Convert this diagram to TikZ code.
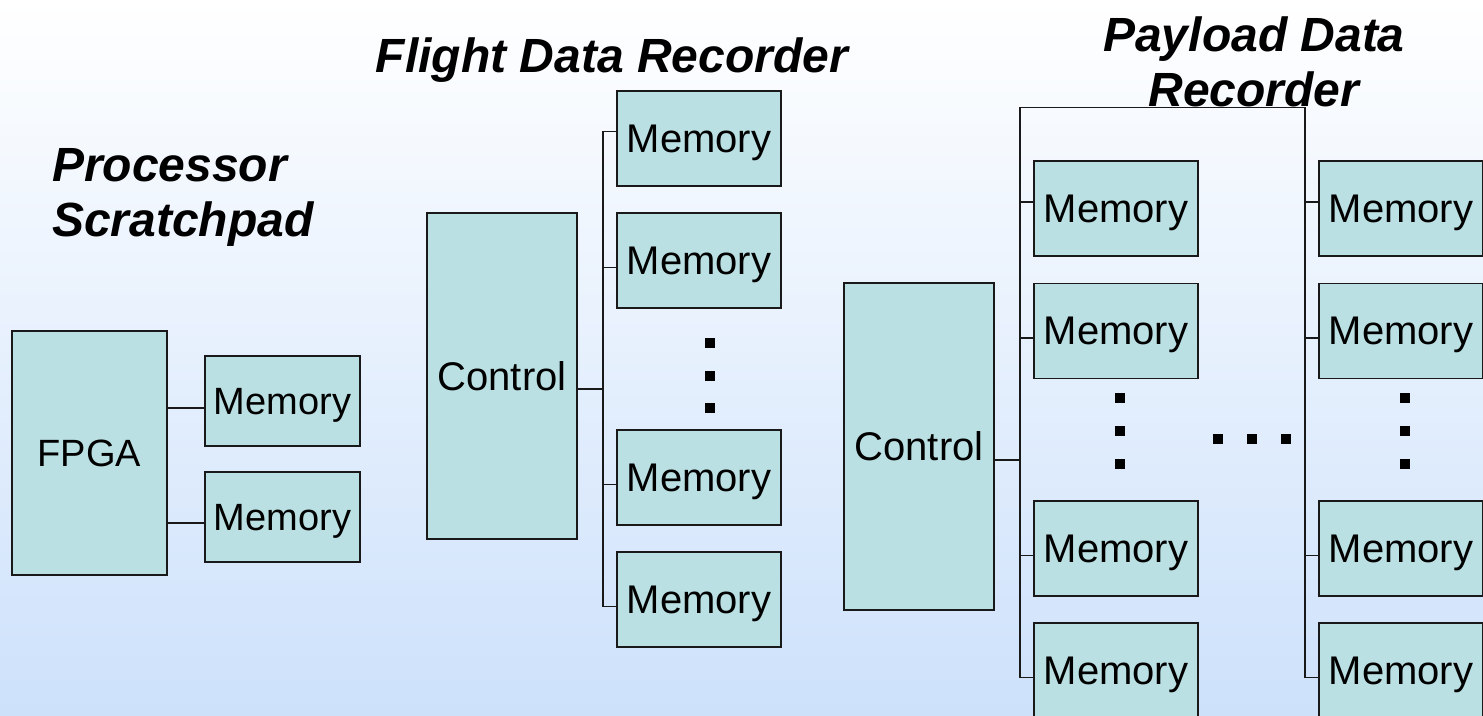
\documentclass[tikz,border=0pt]{standalone}
\usepackage{fontspec}
\setmainfont{Liberation Sans}
\usetikzlibrary{calc}
\definecolor{boxfill}{RGB}{186,224,227}
\definecolor{bgbot}{RGB}{205,225,251}
\definecolor{edge}{RGB}{25,25,25}
\tikzset{
  blk/.style={draw=edge, line width=1.6pt, fill=boxfill, inner sep=0pt, text depth=0pt, font=\fontsize{40}{48}\selectfont},
  mem/.style={blk, minimum width=164pt, minimum height=95pt},
  smem/.style={blk, minimum width=155pt, minimum height=90pt, font=\fontsize{38}{46}\selectfont},
  wire/.style={draw=edge, line width=1.6pt},
  ttl/.style={font=\fontsize{48}{55}\selectfont\bfseries\itshape, inner sep=0pt},
  dotsq/.style={fill=black, draw=none, minimum size=10pt, inner sep=0pt}
}
\begin{document}
\begin{tikzpicture}[x=1pt,y=-1pt]
\useasboundingbox (0,0) rectangle (1483,715);
\shade[top color=white, bottom color=bgbot] (0,0) rectangle (1483,715);
\clip (0,0) rectangle (1483,715);

% ---------- Processor Scratchpad ----------
\node[ttl, align=left, anchor=base west] (pst) at (52,236) {Processor\\Scratchpad};
\node[blk, minimum width=155pt, minimum height=244pt, font=\fontsize{38}{46}\selectfont] (fpga) at (89.5,453) {FPGA};
\node[smem] (sm1) at (282.5,401) {Memory};
\node[smem] (sm2) at (282.5,517) {Memory};
\coordinate (st1) at ($(sm1.west)+(0,7)$);
\coordinate (st2) at ($(sm2.west)+(0,6)$);
\draw[wire] (fpga.east |- st1) -- (st1);
\draw[wire] (fpga.east |- st2) -- (st2);

% ---------- Flight Data Recorder ----------
\node[ttl, anchor=base] (fdt) at (612,72) {Flight Data Recorder};
\node[blk, minimum width=150pt, minimum height=326pt] (fc) at (502,376) {Control};
\node[mem] (fm1) at (699,138.5) {Memory};
\node[mem] (fm2) at (699,260.5) {Memory};
\node[mem] (fm3) at (699,477.5) {Memory};
\node[mem] (fm4) at (699,599.5) {Memory};
\coordinate (ft1) at ($(fm1.west)+(0,-7)$);
\coordinate (ft2) at ($(fm2.west)+(0,7)$);
\coordinate (ft3) at ($(fm3.west)+(0,7)$);
\coordinate (ft4) at ($(fm4.west)+(0,7)$);
\coordinate (fbus) at ($(fm1.west)+(-13,0)$);
\coordinate (fct) at ($(fc.east)+(0,13)$);
\draw[wire] (ft1) -- (fbus |- ft1) -- (fbus |- ft4) -- (ft4);
\draw[wire] (fbus |- ft2) -- (ft2);
\draw[wire] (fbus |- ft3) -- (ft3);
\draw[wire] (fct) -- (fbus |- fct);
\node[dotsq] (fd1) at (710,343) {};
\node[dotsq] (fd2) at (710,375.5) {};
\node[dotsq] (fd3) at (710,408) {};

% ---------- Payload Data Recorder ----------
\node[ttl, align=center, anchor=base] (pdt) at (1254,106) {Payload Data\\Recorder};
\node[blk, minimum width=150pt, minimum height=327pt] (pc) at (919,446.5) {Control};
\node[mem] (pm1) at (1116,208.5) {Memory};
\node[mem] (pm2) at (1116,331) {Memory};
\node[mem] (pm3) at (1116,548.5) {Memory};
\node[mem] (pm4) at (1116,670.5) {Memory};
\node[mem] (qm1) at (1401,208.5) {Memory};
\node[mem] (qm2) at (1401,331) {Memory};
\node[mem] (qm3) at (1401,548.5) {Memory};
\node[mem] (qm4) at (1401,670.5) {Memory};
\coordinate (pt1) at ($(pm1.west)+(0,-6.5)$);
\coordinate (pt2) at ($(pm2.west)+(0,7)$);
\coordinate (pt3) at ($(pm3.west)+(0,7)$);
\coordinate (pt4) at ($(pm4.west)+(0,7)$);
\coordinate (qt1) at ($(qm1.west)+(0,-6.5)$);
\coordinate (qt2) at ($(qm2.west)+(0,7)$);
\coordinate (qt3) at ($(qm3.west)+(0,7)$);
\coordinate (qt4) at ($(qm4.west)+(0,7)$);
\coordinate (pbus) at ($(pm1.west)+(-13,-101)$);
\coordinate (qbus) at ($(qm1.west)+(-13,-101)$);
\coordinate (pct) at ($(pc.east)+(0,13.5)$);
\draw[wire] (pt4) -- (pbus |- pt4) -- (pbus) -- (qbus) -- (qbus |- qt4) -- (qt4);
\foreach \t in {pt1,pt2,pt3} \draw[wire] (pbus |- \t) -- (\t);
\foreach \t in {qt1,qt2,qt3} \draw[wire] (qbus |- \t) -- (\t);
\draw[wire] (pct) -- (pbus |- pct);
\node[dotsq] (pd1) at (1120,398) {};
\node[dotsq] (pd2) at (1120,431) {};
\node[dotsq] (pd3) at (1120,464) {};
\node[dotsq] (qd1) at (1405,398) {};
\node[dotsq] (qd2) at (1405,431) {};
\node[dotsq] (qd3) at (1405,464) {};
\node[dotsq] (hd1) at (1218,439) {};
\node[dotsq] (hd2) at (1252,439) {};
\node[dotsq] (hd3) at (1286,439) {};
\end{tikzpicture}
\end{document}
